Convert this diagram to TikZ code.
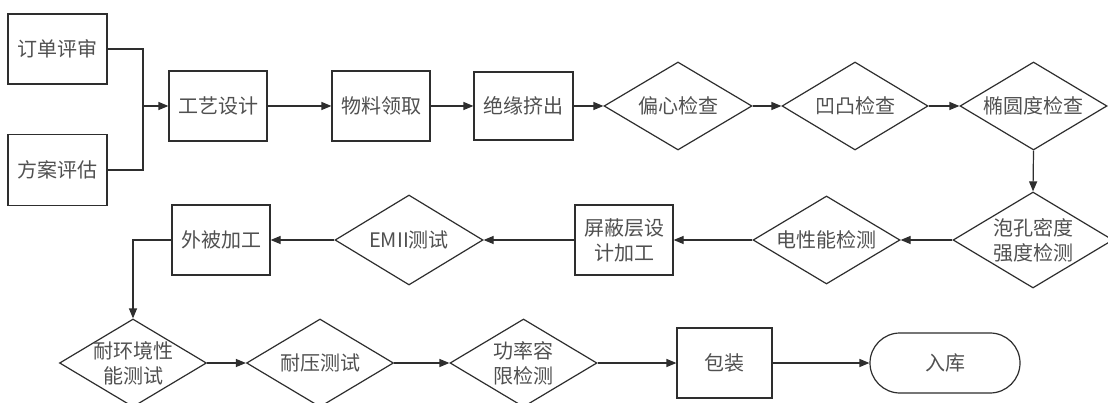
\documentclass[tikz,border=0pt]{standalone}
\usepackage{fontspec}
\setmainfont{Noto Sans CJK SC}
\usetikzlibrary{shapes.geometric,arrows.meta}
\definecolor{ln}{HTML}{2E2E2E}
\definecolor{tx}{HTML}{505050}
\tikzset{
  base/.style={draw=ln, line width=1.2pt, text=tx, font=\fontsize{20}{25}\selectfont, align=center, inner sep=0pt},
  box/.style 2 args={base, rectangle, minimum width=#1, minimum height=#2},
  dia/.style 2 args={draw=ln, line width=1.2pt, diamond, aspect=1.67, inner sep=0pt, minimum width=#1, minimum height=#2},
  every label/.style={text=tx, font=\fontsize{20}{25}\selectfont, align=center, inner sep=0pt},
  term/.style 2 args={base, rectangle, rounded corners=30pt, minimum width=#1, minimum height=#2},
  arr/.style={draw=ln, line width=1.2pt, -{Triangle[length=10pt,width=8pt]}},
  ln/.style={draw=ln, line width=1.2pt}
}
\begin{document}
\begin{tikzpicture}[x=1pt,y=-1pt]
\useasboundingbox (0,0) rectangle (1108,403);
\fill[white] (0,0) rectangle (1108,403);
\clip (0,0) rectangle (1108,403);
% row 1
\node[box={99pt}{70pt}] (ddps) at (57.5,49) {订单评审};
\node[box={99pt}{71pt}] (fapg) at (57.5,170) {方案评估};
\coordinate (m) at (143,106);
\node[box={98pt}{70pt}] (gysj) at (218,106) {工艺设计};
\node[box={98pt}{70pt}] (wllq) at (381,106) {物料领取};
\node[box={99pt}{68pt}] (jyjc) at (523.5,106) {绝缘挤出};
\node[dia={148pt}{88pt}, label={center:偏心检查}] (pxjc) at (678,106) {};
\node[dia={146pt}{88pt}, label={center:凹凸检查}] (atjc) at (855,106) {};
\node[dia={147pt}{88pt}, label={center:椭圆度检查}] (tyd) at (1033.5,106) {};
% row 2
\node[dia={160pt}{96pt}, label={center:泡孔密度\\强度检测}] (pkmd) at (1033,240) {};
\node[dia={147pt}{88pt}, label={center:电性能检测}] (dxn) at (826.5,240) {};
\node[box={98pt}{70pt}] (pbc) at (624,240) {屏蔽层设\\计加工};
\node[dia={148pt}{90pt}, label={center:EMII测试}] (emi) at (409,240) {};
\node[box={98pt}{70pt}] (wbjg) at (221,240) {外被加工};
% row 3
\node[dia={147pt}{88pt}, label={center:耐环境性\\能测试}] (nhj) at (133,363) {};
\node[dia={147pt}{88pt}, label={center:耐压测试}] (ny) at (320,363) {};
\node[dia={147pt}{88pt}, label={center:功率容\\限检测}] (gl) at (523.5,363) {};
\node[box={95pt}{70pt}] (bz) at (724.5,363) {包装};
\node[term={150pt}{60pt}] (rk) at (945,363) {入库};
% connectors
\draw[ln] (ddps.east) -| (m);
\draw[ln] (fapg.east) -| (m);
\draw[arr] (m) -- (gysj.west);
\draw[arr] (gysj.east) -- (wllq.west);
\draw[arr] (wllq.east) -- (jyjc.west);
\draw[arr] (jyjc.east) -- (pxjc.west);
\draw[arr] (pxjc.east) -- (atjc.west);
\draw[arr] (atjc.east) -- (tyd.west);
\draw[arr] (tyd.south) -- (pkmd.north);
\draw[arr] (pkmd.west) -- (dxn.east);
\draw[arr] (dxn.west) -- (pbc.east);
\draw[arr] (pbc.west) -- (emi.east);
\draw[arr] (emi.west) -- (wbjg.east);
\draw[arr] (wbjg.west) -| (nhj.north);
\draw[arr] (nhj.east) -- (ny.west);
\draw[arr] (ny.east) -- (gl.west);
\draw[arr] (gl.east) -- (bz.west);
\draw[arr] (bz.east) -- (rk.west);
\end{tikzpicture}
\end{document}
